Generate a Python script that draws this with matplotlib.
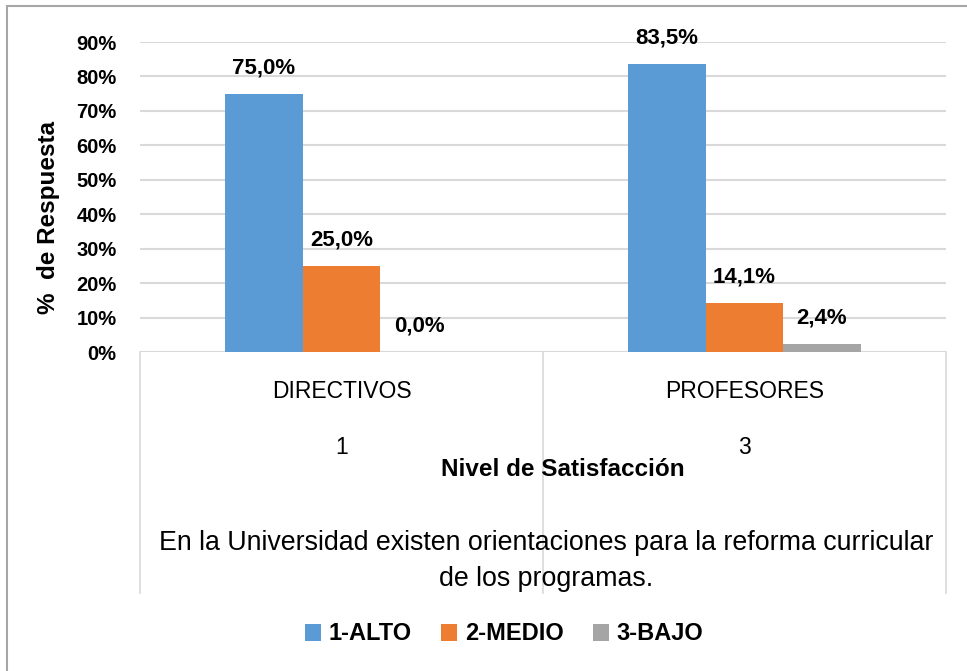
import matplotlib
matplotlib.use("Agg")
import matplotlib.pyplot as plt
from matplotlib.patches import Rectangle, Patch
from matplotlib.lines import Line2D

plt.rcParams['font.family'] = ["Liberation Sans", "DejaVu Sans"]

categories = ["DIRECTIVOS", "PROFESORES"]
sub_labels = ["1", "3"]
series = ["1-ALTO", "2-MEDIO", "3-BAJO"]
values = {
    "1-ALTO": [75.0, 83.5],
    "2-MEDIO": [25.0, 14.1],
    "3-BAJO": [0.0, 2.4],
}
colors = ["#5B9BD5", "#ED7D31", "#A5A5A5"]
yticks = [0, 10, 20, 30, 40, 50, 60, 70, 80, 90]

W, H = 967, 671
fig = plt.figure(figsize=(W / 100, H / 100), dpi=100)
ax = fig.add_axes([140 / W, 1 - 352 / H, (946 - 140) / W, (352 - 42) / H])

bw = 0.1923
for i, s in enumerate(series):
    xs = [c + 0.5 + (i - 1) * bw for c in range(len(categories))]
    ax.bar(xs, values[s], width=bw, color=colors[i], zorder=3)
    for x, v in zip(xs, values[s]):
        ax.annotate(f"{v:.1f}%".replace(".", ","), (x, v), xytext=(0, 18.7),
                    textcoords="offset points", ha="center", va="center",
                    fontsize=16, fontweight="bold", color="black")

ax.set_xlim(0, len(categories))
ax.set_ylim(0, 90)
ax.set_yticks(yticks)
ax.set_yticklabels([f"{t}%" for t in yticks], fontsize=14.5, fontweight="bold")
ax.tick_params(axis="y", length=0, pad=17)
ax.set_xticks([])
ax.grid(axis="y", color="#D9D9D9", linewidth=1.5, zorder=0)
for sp in ax.spines.values():
    sp.set_visible(False)
ax.axhline(0, color="#D9D9D9", linewidth=1.5, zorder=1)

ax.set_ylabel("%  de Respuesta", fontsize=17.5, fontweight="bold")
ax.yaxis.set_label_coords(-80 / 806, 135 / 310)

trans = ax.get_xaxis_transform()
for xv in range(len(categories) + 1):
    ax.add_line(Line2D([xv, xv], [0, -241 / 310], transform=trans, color="#D9D9D9",
                       linewidth=1.2, clip_on=False))
for c, (cat, sub) in enumerate(zip(categories, sub_labels)):
    ax.text(c + 0.5, -40 / 310, cat, transform=trans, ha="center", va="center", fontsize=16.5)
    ax.text(c + 0.5, -96 / 310, sub, transform=trans, ha="center", va="center", fontsize=16.5)

fig.text(563 / W, 1 - 470 / H, "Nivel de Satisfacción", ha="center", va="center",
         fontsize=17.5, fontweight="bold")
fig.text(546 / W, 1 - 561 / H,
         "En la Universidad existen orientaciones para la reforma curricular\nde los programas.",
         ha="center", va="center", fontsize=19.3, linespacing=1.45)

handles = [Patch(facecolor=c) for c in colors]
fig.legend(handles, series, loc="center", bbox_to_anchor=(504 / W, 1 - 634 / H), ncol=3,
           frameon=False, prop={"weight": "bold", "size": 17}, handlelength=0.68,
           handleheight=0.7, handletextpad=0.34, columnspacing=1.23)

fig.add_artist(Rectangle((7 / W, -0.05), 1.2, 1 - 6 / H + 0.05, transform=fig.transFigure,
                         fill=False, edgecolor="#A6A6A6", linewidth=1.5))

fig.savefig("out.png", dpi=100)
